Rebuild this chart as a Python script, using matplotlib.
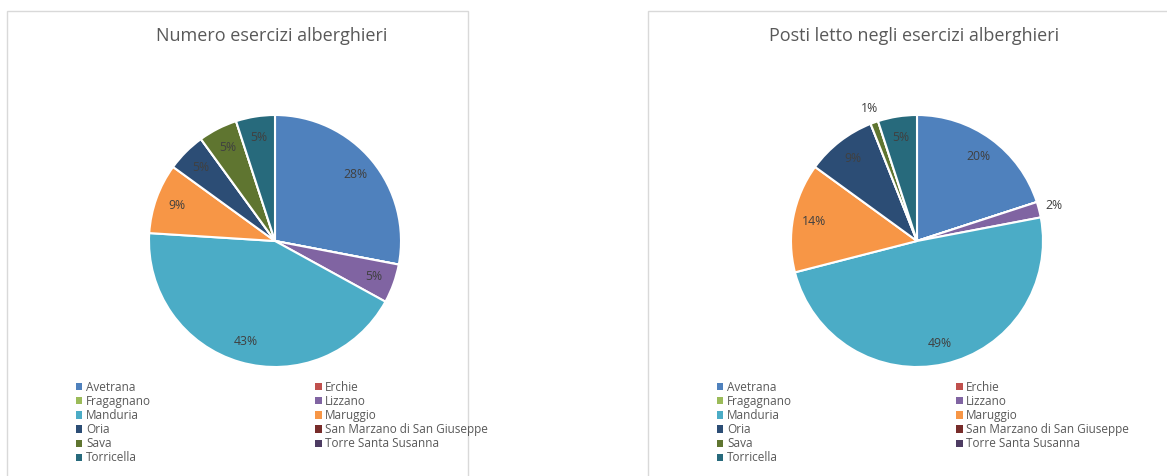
import numpy as np
import matplotlib.pyplot as plt
from matplotlib.patches import Rectangle, Patch

plt.rcParams['font.family'] = ['Open Sans', 'DejaVu Sans']

comuni = ["Avetrana", "Erchie", "Fragagnano", "Lizzano", "Manduria", "Maruggio",
          "Oria", "San Marzano di San Giuseppe", "Sava", "Torre Santa Susanna", "Torricella"]
esercizi = [28, 0, 0, 5, 43, 9, 5, 0, 5, 0, 5]
posti_letto = [20, 0, 0, 2, 49, 14, 9, 0, 1, 0, 5]
titoli = ["Numero esercizi alberghieri", "Posti letto negli esercizi alberghieri"]

colori = ["#4F81BD", "#C0504D", "#9BBB59", "#8064A2", "#4BACC6", "#F79646",
          "#2C4D75", "#772C2A", "#5F7530", "#4D3B62", "#276A7C"]

W, H = 1167, 476
fig = plt.figure(figsize=(W / 100, H / 100), dpi=100)


def px(x, y_top):
    return x / W, 1 - y_top / H


def draw_chart(values, title, box_x0, box_x1, cx):
    # chart frame
    fig.patches.append(Rectangle(px(box_x0, 480), (box_x1 - box_x0) / W, 469 / H,
                                 transform=fig.transFigure, fill=False,
                                 edgecolor="#D9D9D9", linewidth=1))
    fig.text(*px(cx - 3, 36), title, ha="center", va="center",
             fontsize=13, color="#595959")
    r = 126
    half = 1.3 * r
    ax = fig.add_axes([(cx - half) / W, (H - 241 - half) / H, 2 * half / W, 2 * half / H])
    wedges, _ = ax.pie(values, colors=colori, startangle=90, counterclock=False,
                       wedgeprops=dict(edgecolor="white", linewidth=1.5))
    total = sum(values)
    for w, v in zip(wedges, values):
        if v == 0:
            continue
        ang = np.deg2rad((w.theta1 + w.theta2) / 2)
        pct = 100 * v / total
        d = 1.12 if pct < 3 else 0.83
        ax.text(d * np.cos(ang), d * np.sin(ang), f"{pct:.0f}%", ha="center",
                va="center", fontsize=8.8, color="#404040")
    ax.set_xlim(-1.3, 1.3)
    ax.set_ylim(-1.3, 1.3)
    ax.set_aspect("equal")
    ax.axis("off")

    # Excel fills the legend row by row
    order = [0, 2, 4, 6, 8, 10, 1, 3, 5, 7, 9]
    handles = [Patch(facecolor=colori[i], edgecolor="none") for i in order]
    labels = [comuni[i] for i in order]
    fig.legend(handles, labels, loc="upper left", bbox_to_anchor=px(box_x0 + 69, 381),
               ncol=2, frameon=False, fontsize=8.5, labelcolor="#595959",
               handlelength=0.55, handleheight=0.55, handletextpad=0.3,
               labelspacing=0.09, columnspacing=13.9, borderaxespad=0, borderpad=0)


draw_chart(esercizi, titoli[0], 7, 468, 275)
draw_chart(posti_letto, titoli[1], 648, 1175, 917)

fig.savefig("out.png", dpi=100, facecolor="white")
